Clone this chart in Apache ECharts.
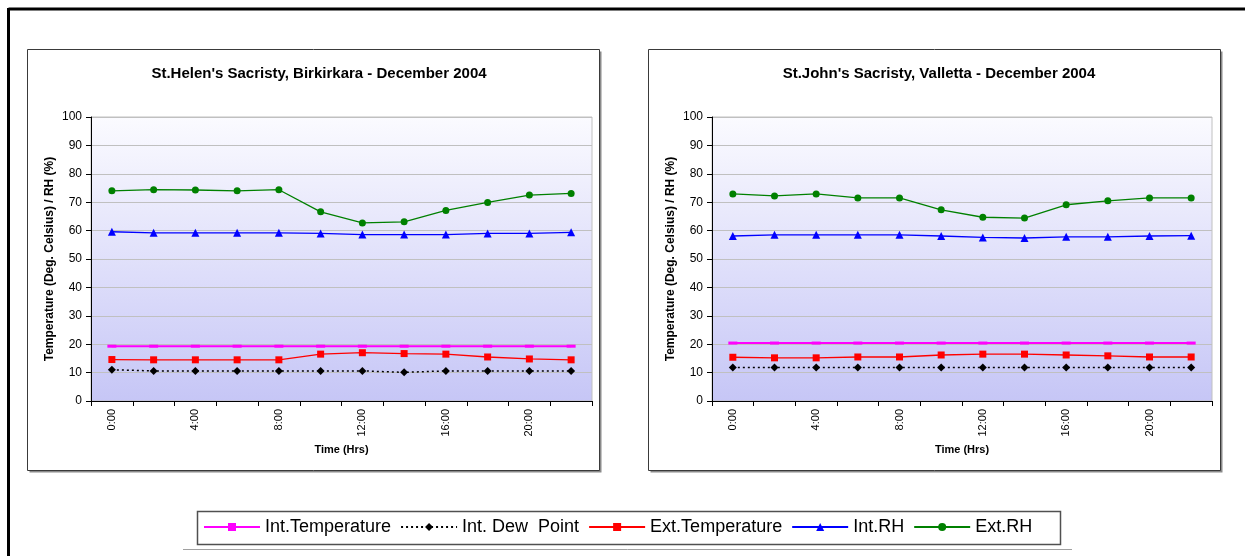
<!DOCTYPE html>
<html>
<head>
<meta charset="utf-8">
<script src="https://cdn.jsdelivr.net/npm/echarts@6/dist/echarts.min.js"></script>
<style>
  html, body { margin: 0; padding: 0; background: #ffffff; }
  #chart { width: 1245px; height: 556px; }
</style>
</head>
<body>
<div id="chart"></div>
<script>
// Hourly readings, December 2004
const hours = ['0:00','2:00','4:00','6:00','8:00','10:00','12:00','14:00','16:00','18:00','20:00','22:00'];
const yTicks = [0, 10, 20, 30, 40, 50, 60, 70, 80, 90, 100];

const seriesNames = ['Int.Temperature', 'Int. Dew  Point', 'Ext.Temperature', 'Int.RH', 'Ext.RH'];

// St.Helen's Sacristy, Birkirkara
const helenIntTemp = [19.3, 19.3, 19.3, 19.3, 19.3, 19.3, 19.3, 19.3, 19.3, 19.3, 19.3, 19.3];
const helenDewPoint = [11.0, 10.6, 10.6, 10.6, 10.6, 10.6, 10.6, 10.1, 10.6, 10.6, 10.6, 10.6];
const helenExtTemp = [14.6, 14.5, 14.5, 14.5, 14.5, 16.5, 17.0, 16.7, 16.5, 15.5, 14.8, 14.5];
const helenIntRH = [59.6, 59.2, 59.2, 59.2, 59.2, 59.0, 58.6, 58.6, 58.6, 59.0, 59.0, 59.4];
const helenExtRH = [74.0, 74.4, 74.3, 74.0, 74.4, 66.6, 62.7, 63.1, 67.1, 69.9, 72.5, 73.1];

// St.John's Sacristy, Valletta
const johnIntTemp = [20.4, 20.4, 20.4, 20.4, 20.4, 20.4, 20.4, 20.4, 20.4, 20.4, 20.4, 20.4];
const johnDewPoint = [11.8, 11.8, 11.8, 11.8, 11.8, 11.8, 11.8, 11.8, 11.8, 11.8, 11.8, 11.8];
const johnExtTemp = [15.4, 15.2, 15.2, 15.5, 15.5, 16.2, 16.5, 16.5, 16.2, 15.9, 15.5, 15.5];
const johnIntRH = [58.1, 58.5, 58.5, 58.5, 58.5, 58.1, 57.6, 57.4, 57.8, 57.8, 58.1, 58.2];
const johnExtRH = [72.9, 72.2, 72.9, 71.5, 71.5, 67.3, 64.7, 64.4, 69.1, 70.5, 71.5, 71.5];

const FONT = 'Liberation Sans, Arial, sans-serif';

const styles = [
  { color: '#ff00ff', symbol: 'path://M0,0H9V3H0Z', symbolSize: [9, 3], line: { width: 2, type: 'solid' } },
  { color: '#000000', symbol: 'diamond', symbolSize: 8, line: { width: 1.5, type: [2, 3] } },
  { color: '#ff0000', symbol: 'rect', symbolSize: 7, line: { width: 1.3, type: 'solid' } },
  { color: '#0000ff', symbol: 'triangle', symbolSize: 8, line: { width: 1.3, type: 'solid' } },
  { color: '#008000', symbol: 'circle', symbolSize: 7, line: { width: 1.3, type: 'solid' } }
];

function makeSeries(idx, values, name, axisIndex) {
  const s = styles[idx];
  return {
    type: 'line',
    name: name,
    xAxisIndex: axisIndex,
    yAxisIndex: axisIndex,
    data: values,
    symbol: s.symbol,
    symbolSize: s.symbolSize,
    showAllSymbol: true,
    animation: false,
    itemStyle: { color: s.color, borderWidth: 0 },
    lineStyle: { color: s.color, width: s.line.width, type: s.line.type },
    emphasis: { disabled: true }
  };
}

const plotGradient = {
  type: 'linear', x: 0, y: 0, x2: 0, y2: 1,
  colorStops: [
    { offset: 0, color: '#fbfbff' },
    { offset: 1, color: '#c6c6f6' }
  ]
};

function gridAt(left, width) {
  return {
    left: left, top: 117, width: width, height: 284,
    show: true, backgroundColor: plotGradient,
    borderColor: '#c0c0c0', borderWidth: 1
  };
}

function xAxisFor(gridIndex) {
  return {
    type: 'category', gridIndex: gridIndex, data: hours, boundaryGap: true,
    name: 'Time (Hrs)', nameLocation: 'middle', nameGap: 40,
    nameTextStyle: { fontFamily: FONT, fontSize: 11, fontWeight: 'bold', color: '#000' },
    axisLine: { lineStyle: { color: '#000', width: 1 } },
    axisTick: { show: true, interval: 0, length: 5, lineStyle: { color: '#000' } },
    axisLabel: { interval: 1, rotate: 90, fontFamily: FONT, fontSize: 11, color: '#000', margin: 8 },
    splitLine: { show: false }
  };
}

function yAxisFor(gridIndex) {
  return {
    type: 'value', gridIndex: gridIndex, min: 0, max: 100, interval: 10,
    name: 'Temperature (Deg. Celsius) / RH (%)', nameLocation: 'middle', nameRotate: 90, nameGap: 35,
    nameTextStyle: { fontFamily: FONT, fontSize: 12, fontWeight: 'bold', color: '#000' },
    axisLine: { show: true, lineStyle: { color: '#000', width: 1 } },
    axisTick: { show: true, length: 5, lineStyle: { color: '#000' } },
    axisLabel: { fontFamily: FONT, fontSize: 12, color: '#000', margin: 9,
      formatter: v => (yTicks.indexOf(v) >= 0 ? String(v) : '') },
    splitLine: { show: true, lineStyle: { color: '#c0c0c0', width: 1 } }
  };
}

const helen = [helenIntTemp, helenDewPoint, helenExtTemp, helenIntRH, helenExtRH];
const john = [johnIntTemp, johnDewPoint, johnExtTemp, johnIntRH, johnExtRH];

const series = [];
helen.forEach((vals, i) => series.push(makeSeries(i, vals, seriesNames[i], 0)));
john.forEach((vals, i) => series.push(makeSeries(i, vals, seriesNames[i], 1)));

function panel(x, y, w, h) {
  return [
    { type: 'rect', silent: true, z: -10, shape: { x: x + 2, y: y + 2, width: w, height: h }, style: { fill: '#8a8a8a' } },
    { type: 'rect', silent: true, z: -9, shape: { x: x, y: y, width: w, height: h }, style: { fill: '#ffffff', stroke: '#3a3a3a', lineWidth: 1 } }
  ];
}

const titleStyle = { fontFamily: FONT, fontSize: 15, fontWeight: 'bold', color: '#000' };

const option = {
  backgroundColor: '#ffffff',
  animation: false,
  title: [
    { text: "St.Helen's Sacristy, Birkirkara - December 2004", left: 314, top: 61, textAlign: 'center', textStyle: titleStyle },
    { text: "St.John's Sacristy, Valletta - December 2004", left: 934, top: 61, textAlign: 'center', textStyle: titleStyle }
  ],
  legend: {
    data: seriesNames, left: 203, top: 518, padding: 0,
    itemWidth: 56, itemHeight: 10, itemGap: 9,
    textStyle: { fontFamily: FONT, fontSize: 18, color: '#000', padding: [0, 0, 0, 0] },
    selectedMode: false
  },
  grid: [gridAt(91, 501), gridAt(712, 500)],
  xAxis: [xAxisFor(0), xAxisFor(1)],
  yAxis: [yAxisFor(0), yAxisFor(1)],
  series: series,
  graphic: [
    // outer frame (top and left edges)
    { type: 'line', silent: true, shape: { x1: 8.5, y1: 9, x2: 1245, y2: 9 }, style: { stroke: '#000', lineWidth: 3 } },
    { type: 'line', silent: true, shape: { x1: 8.5, y1: 8, x2: 8.5, y2: 556 }, style: { stroke: '#000', lineWidth: 3 } },
    ...panel(27.5, 49.5, 572, 421),
    ...panel(648.5, 49.5, 572, 421),
    // legend box
    { type: 'rect', silent: true, z: -8, shape: { x: 197.5, y: 511.5, width: 863, height: 33 }, style: { fill: '#ffffff', stroke: '#505050', lineWidth: 1.5 } },
    { type: 'line', silent: true, shape: { x1: 183, y1: 549.5, x2: 1072, y2: 549.5 }, style: { stroke: '#a0a0a0', lineWidth: 1 } }
  ]
};

const chart = echarts.init(document.getElementById('chart'), null, { renderer: 'canvas' });
chart.setOption(option);
</script>
</body>
</html>
